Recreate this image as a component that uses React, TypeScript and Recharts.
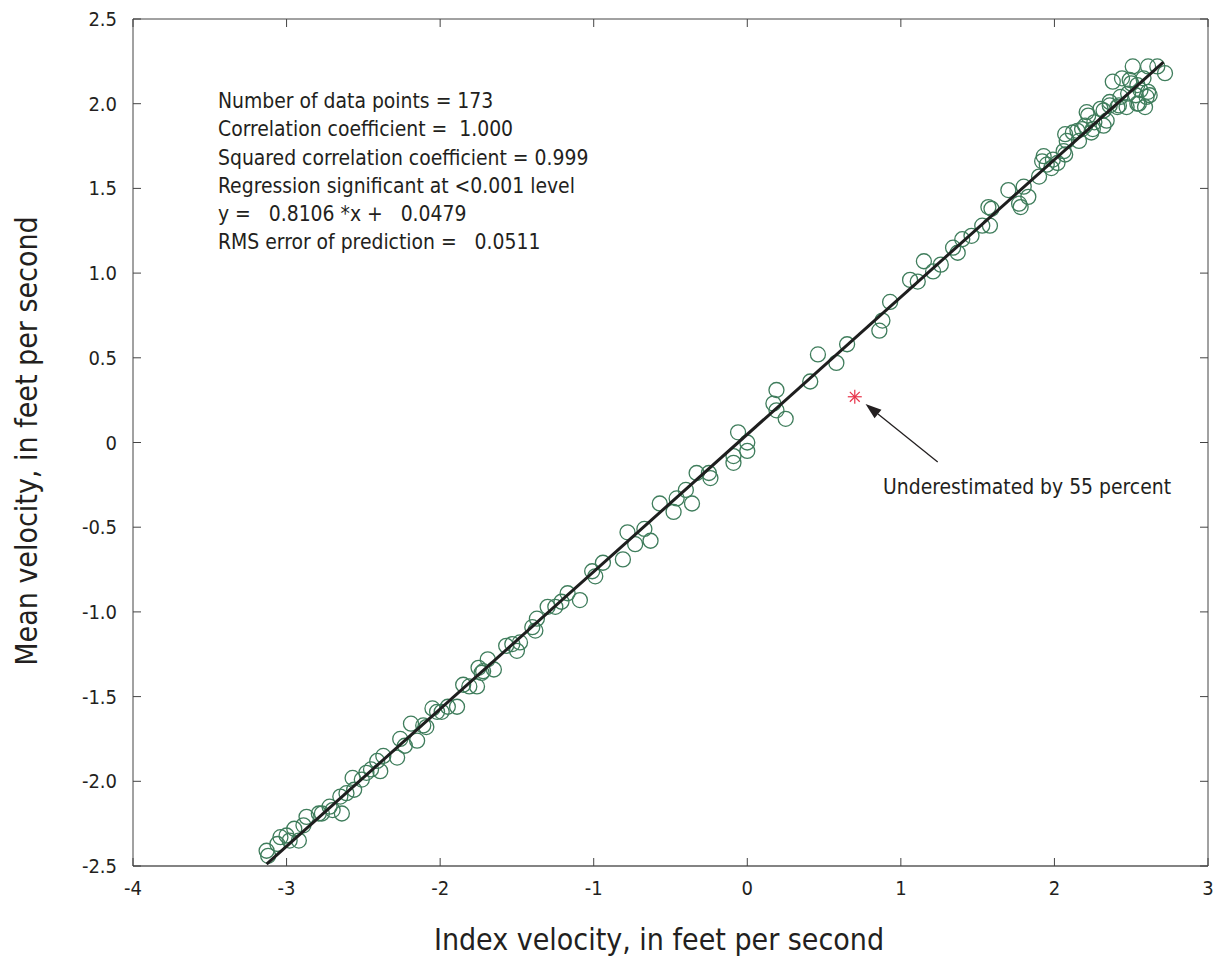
import React from "react";
import { ScatterChart, Scatter, XAxis, YAxis, ReferenceLine } from "recharts";

// index velocity (x) vs mean velocity (y), ft/s
const lowRange: [number, number][] = [
  [-3.12, -2.44], [-3.13, -2.41], [-3.06, -2.37], [-3.04, -2.33], [-3.0, -2.32],
  [-2.98, -2.35], [-2.92, -2.35], [-2.95, -2.28], [-2.89, -2.26], [-2.87, -2.21],
  [-2.79, -2.19], [-2.77, -2.19], [-2.72, -2.15], [-2.7, -2.17], [-2.64, -2.19],
  [-2.65, -2.09], [-2.61, -2.07], [-2.56, -2.05], [-2.57, -1.98], [-2.51, -1.99],
  [-2.48, -1.95], [-2.45, -1.93], [-2.41, -1.88], [-2.39, -1.94], [-2.37, -1.85],
  [-2.28, -1.86], [-2.26, -1.75], [-2.23, -1.79], [-2.19, -1.66], [-2.15, -1.76],
  [-2.11, -1.67], [-2.09, -1.68], [-2.05, -1.57], [-2.02, -1.59], [-1.99, -1.59],
  [-1.95, -1.56], [-1.89, -1.56], [-1.85, -1.43], [-1.81, -1.44], [-1.76, -1.44],
  [-1.75, -1.33], [-1.73, -1.36], [-1.72, -1.35], [-1.69, -1.28], [-1.65, -1.34],
  [-1.57, -1.2], [-1.53, -1.19], [-1.5, -1.23], [-1.48, -1.18], [-1.4, -1.09],
  [-1.38, -1.11], [-1.37, -1.04], [-1.3, -0.97],
];

const midRange: [number, number][] = [
  [-1.25, -0.97], [-1.21, -0.94], [-1.17, -0.89], [-1.09, -0.93], [-1.01, -0.76],
  [-0.99, -0.79], [-0.94, -0.71], [-0.81, -0.69], [-0.78, -0.53], [-0.73, -0.6],
  [-0.67, -0.51], [-0.63, -0.58], [-0.57, -0.36], [-0.48, -0.41], [-0.46, -0.33],
  [-0.4, -0.28], [-0.36, -0.36], [-0.33, -0.18], [-0.25, -0.18], [-0.24, -0.21],
  [-0.09, -0.08], [-0.09, -0.12], [-0.06, 0.06], [0.0, 0.0], [0.0, -0.05],
  [0.19, 0.31], [0.17, 0.23], [0.19, 0.19], [0.25, 0.14], [0.41, 0.36],
  [0.46, 0.52], [0.58, 0.47], [0.65, 0.58], [0.88, 0.72], [0.86, 0.66],
  [0.93, 0.83], [1.06, 0.96], [1.11, 0.95], [1.15, 1.07], [1.21, 1.01],
  [1.26, 1.05], [1.34, 1.15], [1.37, 1.12], [1.4, 1.2], [1.46, 1.22],
  [1.53, 1.28], [1.58, 1.28], [1.59, 1.38],
];

const highRange: [number, number][] = [
  [1.57, 1.39], [1.7, 1.49], [1.77, 1.41], [1.78, 1.39], [1.8, 1.51],
  [1.83, 1.45], [1.9, 1.57], [1.92, 1.66], [1.93, 1.69], [1.95, 1.64],
  [1.98, 1.62], [1.99, 1.67], [2.02, 1.65], [2.06, 1.72], [2.07, 1.82],
  [2.08, 1.78], [2.07, 1.7], [2.12, 1.83], [2.15, 1.84], [2.16, 1.78],
  [2.18, 1.85], [2.2, 1.87], [2.21, 1.95], [2.22, 1.93], [2.24, 1.83],
  [2.25, 1.85], [2.26, 1.89], [2.3, 1.97], [2.32, 1.87], [2.32, 1.96],
  [2.34, 1.9], [2.36, 1.99], [2.36, 2.01], [2.38, 2.13], [2.41, 1.98],
  [2.42, 1.99], [2.43, 2.04], [2.44, 2.15], [2.47, 1.98], [2.48, 2.06],
  [2.49, 2.14], [2.5, 2.12], [2.51, 2.22], [2.53, 2.05], [2.54, 2.11],
  [2.54, 2.0], [2.55, 2.0], [2.56, 2.08], [2.58, 2.15], [2.59, 1.98],
  [2.6, 2.04], [2.61, 2.07], [2.62, 2.05], [2.61, 2.22], [2.67, 2.22],
  [2.72, 2.18],
];

// outlier marked with the red asterisk
const outlier: [number, number][] = [[0.7, 0.27]];

// y = 0.8106*x + 0.0479 drawn over the data range
const fitLine: [number, number][] = [[-3.13, -2.489], [2.71, 2.245]];

// arrow from the note to the outlier (tail, head)
const arrow: [number, number][] = [[1.24, -0.115], [0.77, 0.228]];

const xTicks = [-4, -3, -2, -1, 0, 1, 2, 3];
const yTicks = [-2.5, -2.0, -1.5, -1.0, -0.5, 0, 0.5, 1.0, 1.5, 2.0, 2.5];

const statLines = [
  "Number of data points = 173",
  "Correlation coefficient =  1.000",
  "Squared correlation coefficient = 0.999",
  "Regression significant at <0.001 level",
  "y =   0.8106 *x +   0.0479",
  "RMS error of prediction =   0.0511",
];

const W = 1217;
const H = 958;
const PLOT = { left: 133, top: 19, right: 1208, bottom: 866 };
const FONT = "'Liberation Sans Narrow', 'Arial Narrow', 'DejaVu Sans Condensed', sans-serif";
const TEXT = "#231f20";
const GREEN = "#3f7d5c";
const TICK_LEN = 8;

const toPts = (arr: [number, number][]) => arr.map(([x, y]) => ({ x, y }));

const XTick = (props: any) => {
  const { x, payload } = props;
  const y = PLOT.bottom;
  return (
    <g>
      <line x1={x} x2={x} y1={y} y2={y - TICK_LEN} stroke="#444" />
      <line x1={x} x2={x} y1={PLOT.top} y2={PLOT.top + TICK_LEN} stroke="#444" />
      <text x={x} y={y + 22} textAnchor="middle" dominantBaseline="central" fill={TEXT} fontSize={20} fontFamily={FONT}>
        {payload.value}
      </text>
    </g>
  );
};

const YTick = (props: any) => {
  const { y, payload } = props;
  const x = PLOT.left;
  const v = payload.value;
  const label = v === 0 ? "0" : v.toFixed(1);
  return (
    <g>
      <line x1={x} x2={x + TICK_LEN} y1={y} y2={y} stroke="#444" />
      <line x1={PLOT.right - TICK_LEN} x2={PLOT.right} y1={y} y2={y} stroke="#444" />
      <text x={x - 16} y={y} textAnchor="end" dominantBaseline="central" fill={TEXT} fontSize={20} fontFamily={FONT}>
        {label}
      </text>
    </g>
  );
};

const Ring = (props: any) => (
  <circle cx={props.cx} cy={props.cy} r={7.5} fill="none" stroke={GREEN} strokeWidth={1.3} />
);

const Asterisk = (props: any) => {
  const { cx, cy } = props;
  const r = 7;
  const d = r * 0.7071;
  return (
    <g stroke="#e8334a" strokeWidth={1.2}>
      <line x1={cx - r} x2={cx + r} y1={cy} y2={cy} />
      <line x1={cx} x2={cx} y1={cy - r} y2={cy + r} />
      <line x1={cx - d} x2={cx + d} y1={cy - d} y2={cy + d} />
      <line x1={cx - d} x2={cx + d} y1={cy + d} y2={cy - d} />
    </g>
  );
};

const ArrowShape = (props: any) => {
  const { x1, y1, x2, y2 } = props;
  const ang = Math.atan2(y2 - y1, x2 - x1);
  const len = 16;
  const half = 5.5;
  const bx = x2 - len * Math.cos(ang);
  const by = y2 - len * Math.sin(ang);
  const px = -Math.sin(ang) * half;
  const py = Math.cos(ang) * half;
  return (
    <g>
      <line x1={x1} y1={y1} x2={bx} y2={by} stroke="#231f20" strokeWidth={1.3} />
      <polygon points={`${x2},${y2} ${bx + px},${by + py} ${bx - px},${by - py}`} fill="#231f20" />
    </g>
  );
};

const NoDot = () => <g />;

export default function App() {
  const observations = [...toPts(lowRange), ...toPts(midRange), ...toPts(highRange)];
  return (
    <div style={{ position: "absolute", left: 0, top: 0, width: W, height: H, background: "#fff", fontFamily: FONT }}>
      <ScatterChart
        width={W}
        height={H}
        margin={{ top: PLOT.top, right: W - PLOT.right, bottom: H - PLOT.bottom - 20, left: PLOT.left - 20 }}
      >
        <XAxis
          type="number"
          dataKey="x"
          domain={[-4, 3]}
          ticks={xTicks}
          interval={0}
          height={20}
          tickSize={0}
          tickMargin={0}
          tick={<XTick />}
          axisLine={{ stroke: "#5a5a5a", strokeWidth: 1.5 }}
          allowDataOverflow
        />
        <YAxis
          type="number"
          dataKey="y"
          domain={[-2.5, 2.5]}
          ticks={yTicks}
          interval={0}
          width={20}
          tickSize={0}
          tickMargin={0}
          tick={<YTick />}
          axisLine={{ stroke: "#444", strokeWidth: 1 }}
          allowDataOverflow
        />
        <ReferenceLine x={3} stroke="#444" strokeWidth={1} />
        <ReferenceLine y={2.5} stroke="#444" strokeWidth={1} />
        <Scatter data={observations} shape={<Ring />} isAnimationActive={false} />
        <Scatter
          data={toPts(fitLine)}
          line={{ stroke: "#1e1e1e", strokeWidth: 3 }}
          shape={<NoDot />}
          isAnimationActive={false}
        />
        <Scatter data={toPts(outlier)} shape={<Asterisk />} isAnimationActive={false} />
        <ReferenceLine
          segment={toPts(arrow)}
          shape={(p: any) => <ArrowShape {...p} />}
        />
      </ScatterChart>

      <div
        style={{
          position: "absolute",
          left: 218,
          top: 87,
          fontSize: 22,
          lineHeight: "28.3px",
          color: TEXT,
          whiteSpace: "pre",
          transform: "scaleX(0.95)",
          transformOrigin: "left top",
        }}
      >
        {statLines.map((s) => (
          <div key={s}>{s}</div>
        ))}
      </div>
      <div
        style={{
          position: "absolute",
          left: 883,
          top: 473,
          fontSize: 22,
          lineHeight: "28px",
          color: TEXT,
          whiteSpace: "pre",
          transform: "scaleX(0.95)",
          transformOrigin: "left top",
        }}
      >
        Underestimated by 55 percent
      </div>
      <div
        style={{
          position: "absolute",
          left: 0,
          width: 1318,
          top: 922,
          textAlign: "center",
          fontSize: 30,
          lineHeight: "36px",
          color: TEXT,
        }}
      >
        Index velocity, in feet per second
      </div>
      <div
        style={{
          position: "absolute",
          left: 27 - 250,
          top: 441 - 18,
          width: 500,
          textAlign: "center",
          fontSize: 30,
          lineHeight: "36px",
          color: TEXT,
          transform: "rotate(-90deg)",
        }}
      >
        Mean velocity, in feet per second
      </div>
    </div>
  );
}
